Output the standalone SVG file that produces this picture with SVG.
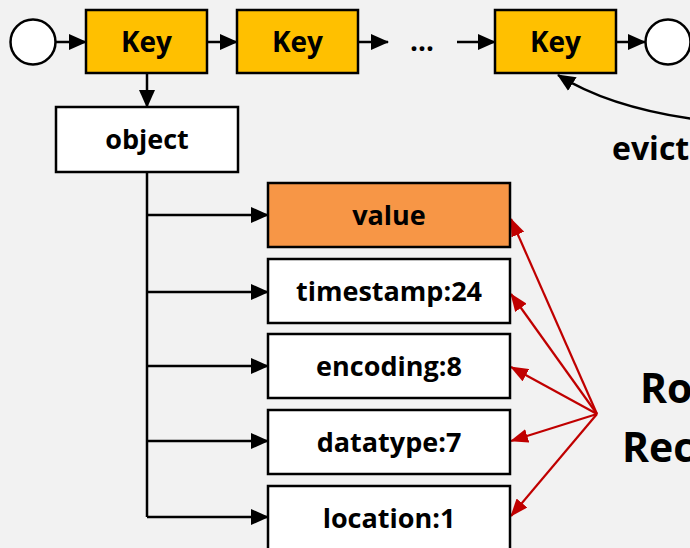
<svg xmlns="http://www.w3.org/2000/svg" width="690" height="548" viewBox="0 0 690 548">
<defs>
<marker id="ah" markerUnits="userSpaceOnUse" markerWidth="18" markerHeight="16" viewBox="0 0 18 16" refX="17" refY="8" orient="auto"><path d="M0,0 L18,8 L0,16 Z" fill="#000"/></marker>
<marker id="ahr" markerUnits="userSpaceOnUse" markerWidth="18" markerHeight="14" viewBox="0 0 18 14" refX="17" refY="7" orient="auto"><path d="M0,0 L18,7 L0,14 Z" fill="#C00000"/></marker>
<style>
.t{font-family:"Open Sans","Liberation Sans",sans-serif;font-weight:700;fill:#000;text-anchor:middle}
.box{stroke:#000;stroke-width:2.5}
.key{fill:#FFC000}
.wh{fill:#fff}
.ln{stroke:#000;stroke-width:2.5;fill:none}
.rd{stroke:#C00000;stroke-width:2.2;fill:none;marker-end:url(#ahr)}
</style>
</defs>
<rect width="690" height="548" fill="#f2f2f2"/>
<g id="connectors">
<line class="ln" x1="56" y1="42" x2="86" y2="42" marker-end="url(#ah)"/>
<line class="ln" x1="207" y1="42" x2="237" y2="42" marker-end="url(#ah)"/>
<line class="ln" x1="358" y1="42" x2="388" y2="42" marker-end="url(#ah)"/>
<line class="ln" x1="457" y1="42" x2="495" y2="42" marker-end="url(#ah)"/>
<line class="ln" x1="616" y1="42" x2="645" y2="42" marker-end="url(#ah)"/>
<line class="ln" x1="147" y1="73" x2="147" y2="107" marker-end="url(#ah)"/>
<path class="ln" d="M147,172 V517"/>
<line class="ln" x1="147" y1="215" x2="268" y2="215" marker-end="url(#ah)"/>
<line class="ln" x1="147" y1="292" x2="268" y2="292" marker-end="url(#ah)"/>
<line class="ln" x1="147" y1="366" x2="268" y2="366" marker-end="url(#ah)"/>
<line class="ln" x1="147" y1="441" x2="268" y2="441" marker-end="url(#ah)"/>
<line class="ln" x1="147" y1="517" x2="268" y2="517" marker-end="url(#ah)"/>
<path class="ln" d="M700,120 Q610,108 558,75" marker-end="url(#ah)"/>
<line class="rd" x1="597" y1="414" x2="511" y2="219"/>
<line class="rd" x1="597" y1="414" x2="511" y2="294"/>
<line class="rd" x1="597" y1="414" x2="511" y2="367"/>
<line class="rd" x1="597" y1="414" x2="511" y2="441"/>
<line class="rd" x1="597" y1="414" x2="511" y2="516"/>
</g>
<g id="head"><circle class="box wh" cx="33" cy="42" r="22.5"/></g>
<g id="key1"><rect class="box key" x="86" y="10" width="121" height="63"/><text class="t" x="146.5" y="52" font-size="28">Key</text></g>
<g id="key2"><rect class="box key" x="237" y="10" width="121" height="63"/><text class="t" x="297.5" y="52" font-size="28">Key</text></g>
<g id="dots"><text class="t" x="422" y="51" font-size="28">…</text></g>
<g id="key3"><rect class="box key" x="495" y="10" width="121" height="63"/><text class="t" x="555.5" y="52" font-size="28">Key</text></g>
<g id="tail"><circle class="box wh" cx="668" cy="42" r="22.5"/></g>
<g id="object"><rect class="box wh" x="56" y="107" width="182" height="65"/><text class="t" x="147" y="149" font-size="27">object</text></g>
<g id="value"><rect class="box" fill="#F79646" x="268" y="183" width="242" height="64"/><text class="t" x="389" y="225" font-size="27">value</text></g>
<g id="timestamp"><rect class="box wh" x="268" y="259" width="242" height="64"/><text class="t" x="389" y="301" font-size="27">timestamp:24</text></g>
<g id="encoding"><rect class="box wh" x="268" y="334" width="242" height="64"/><text class="t" x="389" y="376" font-size="27">encoding:8</text></g>
<g id="datatype"><rect class="box wh" x="268" y="410" width="242" height="64"/><text class="t" x="389" y="452" font-size="27">datatype:7</text></g>
<g id="location"><rect class="box wh" x="268" y="486" width="242" height="66"/><text class="t" x="389" y="528" font-size="27">location:1</text></g>
<g id="evict"><text class="t" x="612" y="160" font-size="32" style="text-anchor:start">evict</text></g>
<g id="label"><text class="t" x="640" y="403" font-size="41" style="text-anchor:start">Ro</text><text class="t" x="622" y="462" font-size="41" style="text-anchor:start">Rec</text></g>
</svg>
